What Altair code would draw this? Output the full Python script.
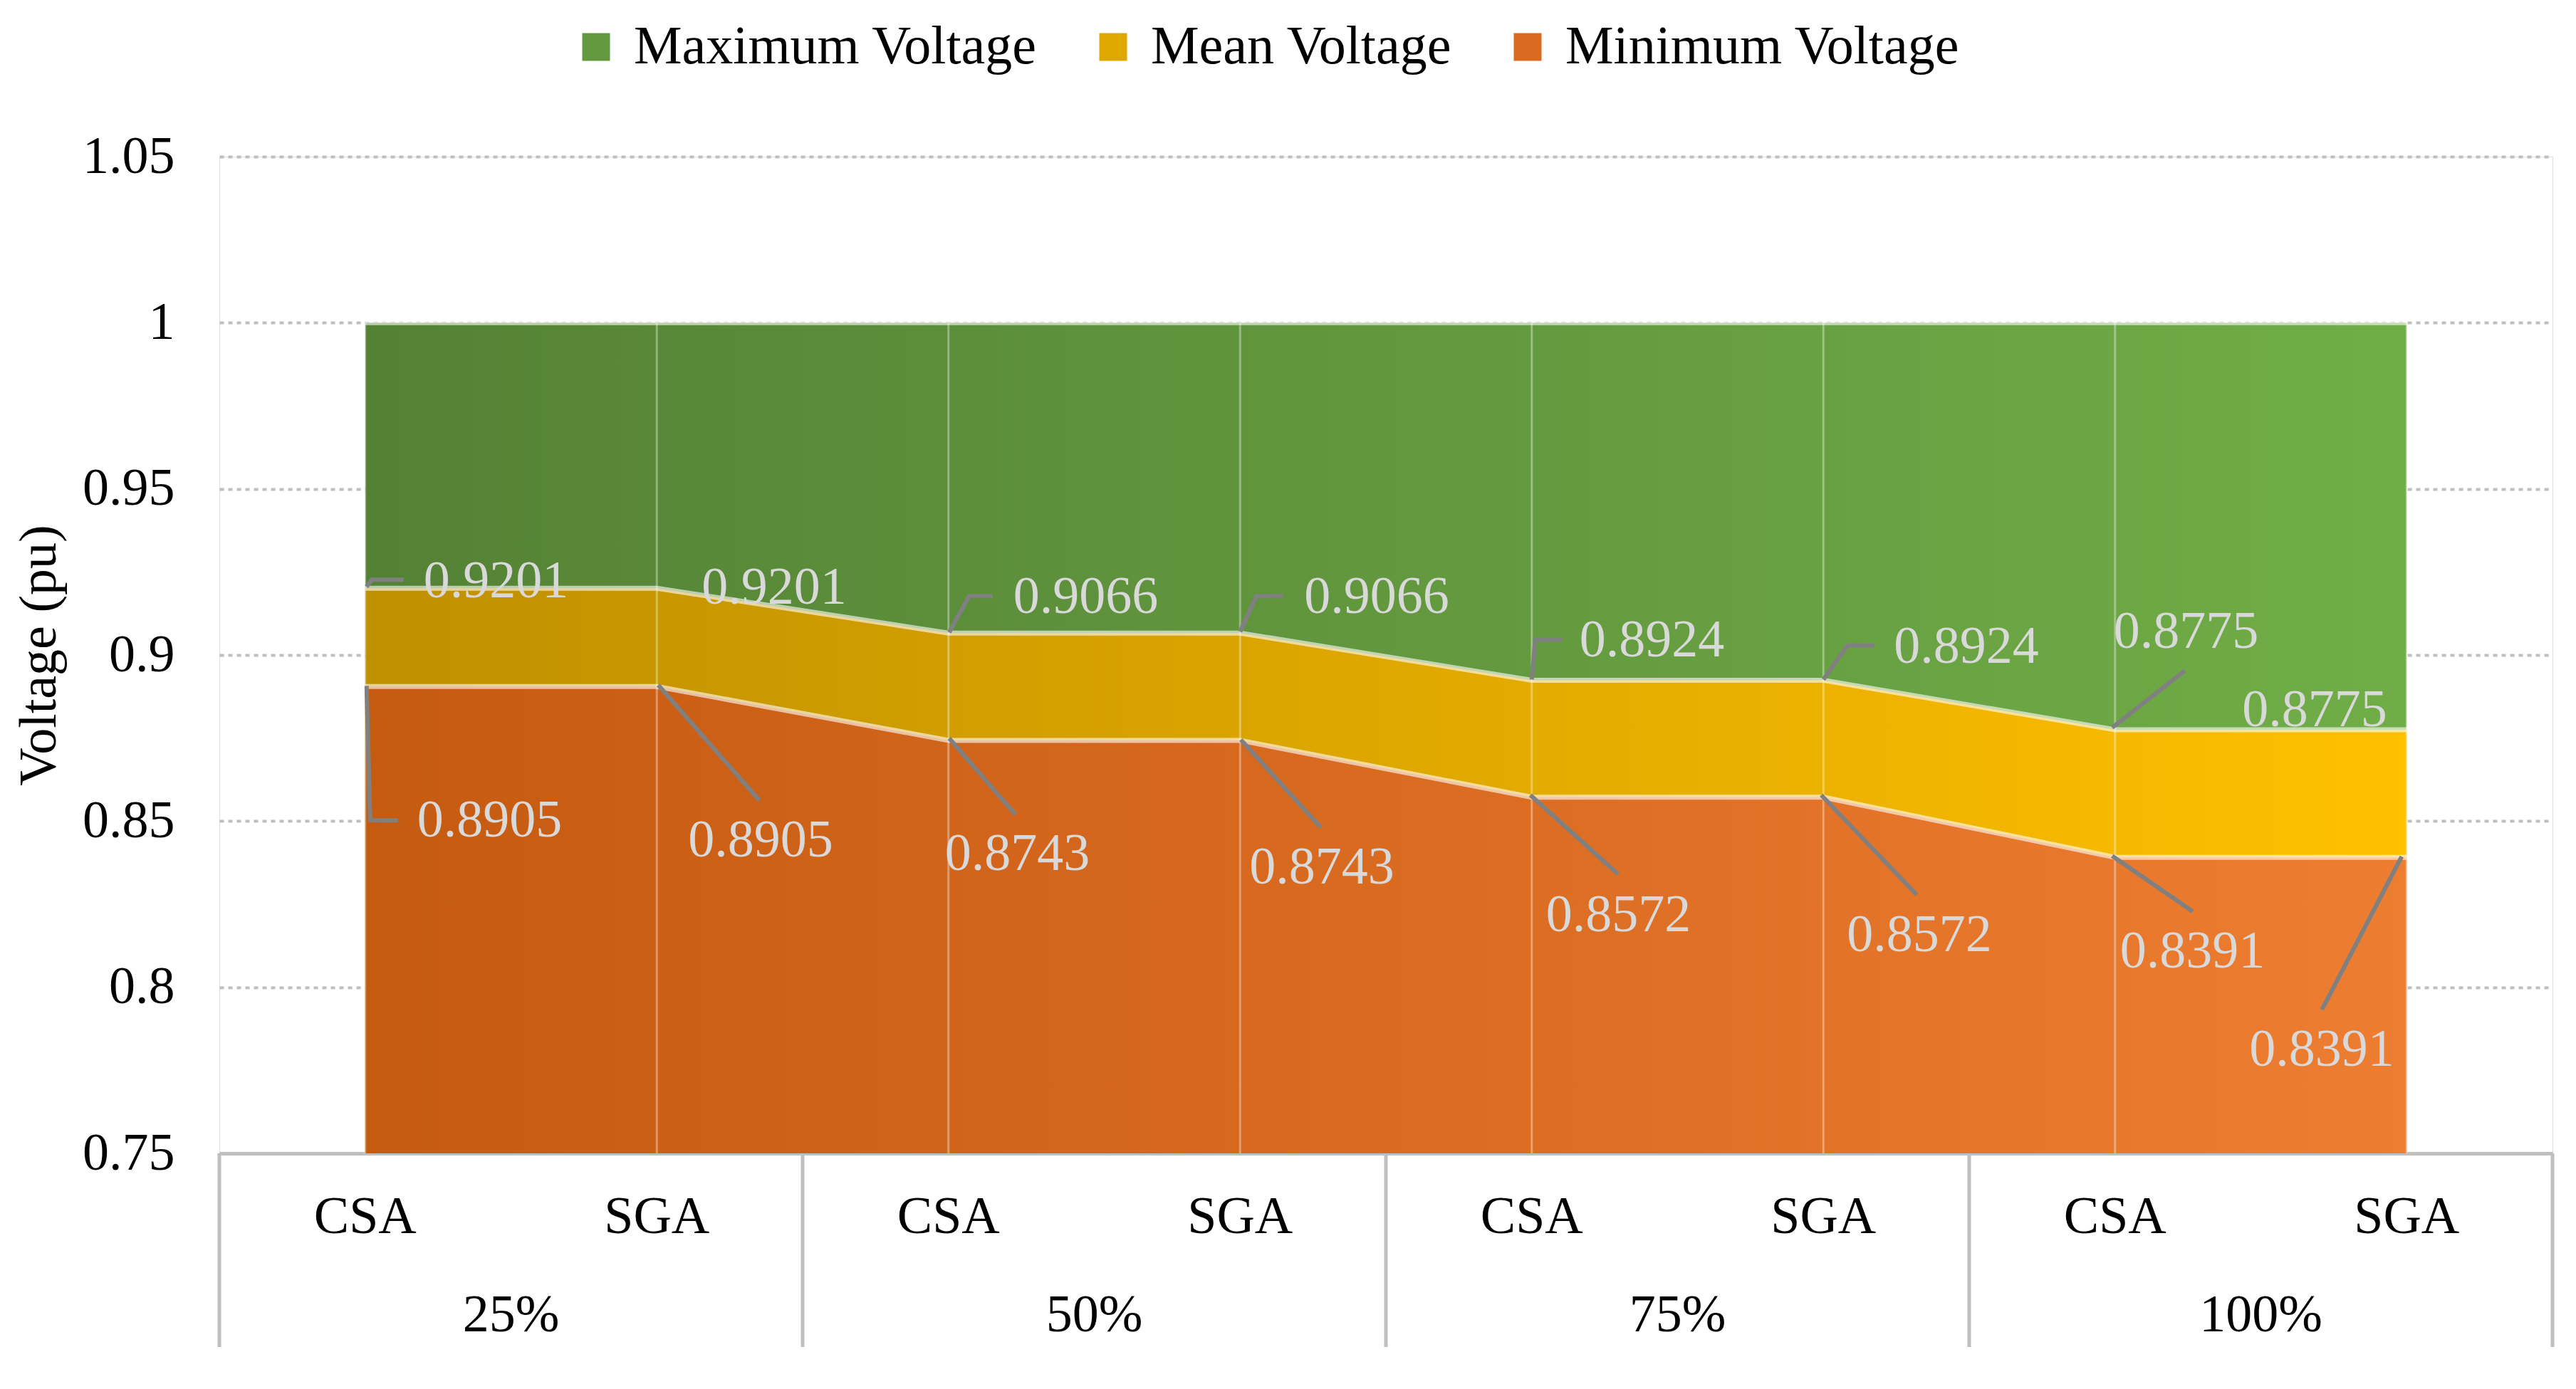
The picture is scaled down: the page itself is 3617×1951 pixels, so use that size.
import altair as alt
import pandas as pd

# ---------------- data ----------------
groups = ["25%", "50%", "75%", "100%"]
methods = ["CSA", "SGA"]
categories = ["CSA", "SGA", "CSA", "SGA", "CSA", "SGA", "CSA", "SGA"]
category_group = ["25%", "25%", "50%", "50%", "75%", "75%", "100%", "100%"]

max_voltage = [1.0, 1.0, 1.0, 1.0, 1.0, 1.0, 1.0, 1.0]
mean_voltage = [0.9201, 0.9201, 0.9066, 0.9066, 0.8924, 0.8924, 0.8775, 0.8775]
min_voltage = [0.8905, 0.8905, 0.8743, 0.8743, 0.8572, 0.8572, 0.8391, 0.8391]

series_names = ["Maximum Voltage", "Mean Voltage", "Minimum Voltage"]
y_ticks = [0.75, 0.8, 0.85, 0.9, 0.95, 1.0, 1.05]

# ---------------- layout / style ----------------
W, H = 3276, 1400
Y_MIN, Y_MAX = 0.75, 1.05
N = len(categories)
PX_X = W / N                    # pixels per category unit
PX_V = H / (Y_MAX - Y_MIN)      # pixels per voltage unit
FONT = "Liberation Serif"
FS = 74
LEGEND_FS = 76
GRID = "#BFBFBF"
LABEL_COLOR = "#D9D9D9"
LEADER_COLOR = "#808080"

gradients = {
    "Maximum Voltage": ("#548235", "#70AD47"),
    "Mean Voltage": ("#BF9000", "#FFC000"),
    "Minimum Voltage": ("#C55A11", "#ED7D31"),
}
legend_colors = ["#62993E", "#DFA800", "#D96B21"]

# data-label placement (pixel offsets from each point)
mean_label_dx = [82, 63, 91, 90, 67, 99, -2, -231]
mean_label_dy = [-9, 0, -50, -50, -55, -46, -137, -27]
min_label_dx = [73, 44, -5, 13, 20, 33, 7, -221]
min_label_dy = [189, 217, 160, 179, 166, 194, 133, 271]

mean_leaders = [
    [(2, -2), (9, -12), (54, -12)],
    None,
    [(1, -1), (29, -52), (62, -52)],
    [(0, -2), (23, -52), (60, -52)],
    [(0, -1), (5, -57), (43, -57)],
    [(0, -1), (34, -49), (72, -49)],
    [(-4, -3), (98, -83)],
    None,
]
min_leaders = [
    [(2, -1), (7, 188), (46, 188)],
    [(2, -2), (144, 160)],
    [(1, -3), (94, 104)],
    [(1, -1), (113, 122)],
    [(-2, -3), (121, 108)],
    [(-3, -3), (131, 137)],
    [(-4, -2), (109, 76)],
    [(-7, -1), (-119, 214)],
]

# ---------------- tables ----------------
pos = [i + 0.5 for i in range(N)]
series_values = {
    "Maximum Voltage": max_voltage,
    "Mean Voltage": mean_voltage,
    "Minimum Voltage": min_voltage,
}
long_rows = []
for s in series_names:
    for i in range(N):
        long_rows.append({"series": s, "pos": pos[i], "cat": categories[i],
                          "grp": category_group[i], "value": series_values[s][i],
                          "base": Y_MIN})
long_df = pd.DataFrame(long_rows)

cat_df = pd.DataFrame({"pos": pos, "cat": categories, "top": max_voltage,
                       "base": [Y_MIN] * N})
grp_df = pd.DataFrame({"grp": groups,
                       "pos": [2 * k + len(methods) / 2 for k in range(len(groups))]})
sep_df = pd.DataFrame({"pos": [len(methods) * k for k in range(len(groups) + 1)]})

label_rows = []
leader_rows = []
for vals, ldx, ldy, leaders, tag in [
    (mean_voltage, mean_label_dx, mean_label_dy, mean_leaders, "mean"),
    (min_voltage, min_label_dx, min_label_dy, min_leaders, "min"),
]:
    for i in range(N):
        label_rows.append({
            "lx": pos[i] + ldx[i] / PX_X,
            "ly": vals[i] - ldy[i] / PX_V,
            "text": f"{vals[i]:.4f}",
        })
        if leaders[i]:
            for k, (dx, dy) in enumerate(leaders[i]):
                leader_rows.append({
                    "id": f"{tag}{i}", "k": k,
                    "lx": pos[i] + dx / PX_X,
                    "ly": vals[i] - dy / PX_V,
                })
label_df = pd.DataFrame(label_rows)
leader_df = pd.DataFrame(leader_rows)

# ---------------- scales / axes ----------------
xscale = alt.Scale(domain=[0, N], nice=False, zero=False)
yscale = alt.Scale(domain=[Y_MIN, Y_MAX], nice=False, zero=False)
xaxis = alt.Axis(labels=False, ticks=False, grid=False, title=None,
                 domain=True, domainColor=GRID, domainWidth=5)
yaxis = alt.Axis(values=y_ticks, format="~g", title="Voltage (pu)",
                 grid=True, gridColor=GRID, gridDash=[6, 6], gridWidth=4,
                 domain=False, ticks=False, labelFont=FONT, labelFontSize=FS,
                 labelColor="black", labelPadding=63, titleFont=FONT,
                 titleFontSize=FS, titleFontWeight="normal", titleColor="black",
                 titlePadding=22)

X = alt.X("pos:Q", scale=xscale, axis=xaxis)
Y = alt.Y("value:Q", scale=yscale, axis=yaxis)


def grad(c0, c1):
    return alt.Gradient(gradient="linear", x1=0, x2=1, y1=0, y2=0,
                        stops=[alt.GradientStop(offset=0, color=c0),
                               alt.GradientStop(offset=1, color=c1)])


layers = []
for s in series_names:
    c0, c1 = gradients[s]
    layers.append(
        alt.Chart(long_df).transform_filter(alt.datum.series == s)
        .mark_area(fill=grad(c0, c1), interpolate="linear")
        .encode(x=X, y=Y, y2=alt.Y2("base:Q"))
    )

# light vertical lines at each category
vlines = alt.Chart(cat_df).mark_rule(color="white", opacity=0.35, strokeWidth=3).encode(
    x=alt.X("pos:Q", scale=xscale, axis=xaxis),
    y=alt.Y("top:Q", scale=yscale, axis=yaxis),
    y2=alt.Y2("base:Q"),
)

# light boundary lines on top of each area
edges = alt.Chart(long_df).mark_line(color="white", opacity=0.6, strokeWidth=7).encode(
    x=X, y=Y, detail="series:N"
)

# legend (invisible marks providing the legend)
legend_layer = alt.Chart(long_df).mark_square(size=1521, opacity=0).encode(
    x=X, y=Y,
    color=alt.Color("series:N",
                    scale=alt.Scale(domain=series_names, range=legend_colors),
                    legend=alt.Legend(title=None, orient="none", direction="horizontal",
                                      legendX=491, legendY=-192,
                                      symbolType="square", symbolSize=1521,
                                      symbolOpacity=1, symbolStrokeWidth=0,
                                      labelFont=FONT, labelFontSize=LEGEND_FS,
                                      labelColor="black", labelOffset=15,
                                      columnPadding=68, labelLimit=0)),
)

leaders = alt.Chart(leader_df).mark_line(color=LEADER_COLOR, strokeWidth=6).encode(
    x=alt.X("lx:Q", scale=xscale, axis=xaxis),
    y=alt.Y("ly:Q", scale=yscale, axis=yaxis),
    detail="id:N",
    order="k:Q",
)

labels = alt.Chart(label_df).mark_text(
    font=FONT, fontSize=FS, color=LABEL_COLOR, align="left", baseline="middle"
).encode(
    x=alt.X("lx:Q", scale=xscale, axis=xaxis),
    y=alt.Y("ly:Q", scale=yscale, axis=yaxis),
    text="text:N",
)

# two-level category axis
cat_text = alt.Chart(cat_df).mark_text(
    font=FONT, fontSize=FS, color="black", align="center", baseline="middle"
).encode(x=alt.X("pos:Q", scale=xscale, axis=xaxis), y=alt.value(1490), text="cat:N")

grp_text = alt.Chart(grp_df).mark_text(
    font=FONT, fontSize=FS, color="black", align="center", baseline="middle"
).encode(x=alt.X("pos:Q", scale=xscale, axis=xaxis), y=alt.value(1628), text="grp:N")

seps = alt.Chart(sep_df).mark_rule(color=GRID, strokeWidth=5).encode(
    x=alt.X("pos:Q", scale=xscale, axis=xaxis), y=alt.value(H), y2=alt.value(1672)
)

chart = alt.layer(
    *layers, vlines, edges, legend_layer, leaders, labels, cat_text, grp_text, seps
).properties(
    width=W, height=H,
    autosize=alt.AutoSizeParams(type="none"),
    padding={"left": 300, "top": 212, "right": 20, "bottom": 300},
    background="white",
).configure_view(stroke=None).configure(font=FONT)

chart.save("out.html", embed_options={"renderer": "svg", "actions": False})
